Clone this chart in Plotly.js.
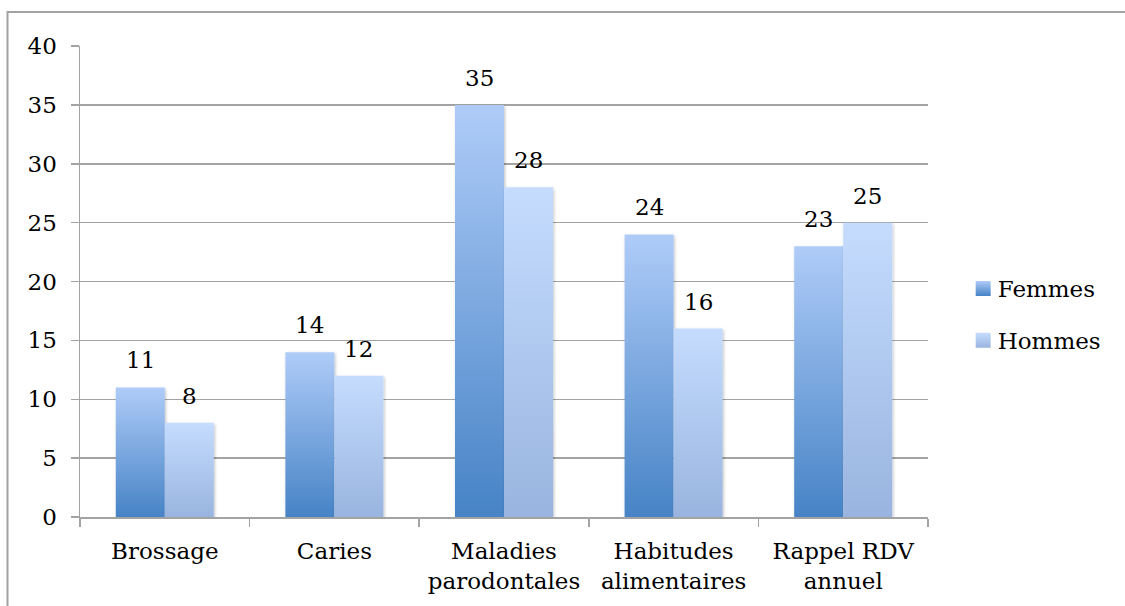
<!DOCTYPE html>
<html><head><meta charset="utf-8">
<script src="https://cdn.plot.ly/plotly-3.0.1.min.js"></script>
<style>html,body{margin:0;padding:0;background:#fff}#chart{width:1125px;height:606px}</style>
</head><body><div id="chart"></div>
<script>
const categories = ["Brossage", "Caries", "Maladies<br>parodontales", "Habitudes<br>alimentaires", "Rappel RDV<br>annuel"];
const femmes = [11, 14, 35, 24, 23];
const hommes = [8, 12, 28, 16, 25];
const seriesNames = ["Femmes", "Hommes"];
const yTickValues = [0, 5, 10, 15, 20, 25, 30, 35, 40];

const FONT = "'DejaVu Serif', serif";
const FS = 23;
const GRAY = "#a3a3a3";
const gradients = [
  {id: "gradF", top: "#afccf8", bottom: "#4683c6"},
  {id: "gradH", top: "#c5dcfe", bottom: "#99b4df"}
];
const series = [femmes, hommes];

const traces = series.map((vals, i) => ({
  type: "bar", name: seriesNames[i], x: categories, y: vals,
  marker: {color: gradients[i].bottom, line: {width: 0}},
  legendgroup: "g" + i, hoverinfo: "none"
}));

const annotations = [];
series.forEach((vals, i) => {
  vals.forEach((v, j) => {
    annotations.push({
      xref: "x", yref: "y", x: categories[j], y: v,
      xshift: i === 0 ? -24.5 : 24.5, yshift: 12,
      yanchor: "bottom", xanchor: "center", showarrow: false,
      text: String(v), font: {family: FONT, size: FS, color: "#000"}
    });
  });
});

const layout = {
  width: 1125, height: 606,
  margin: {l: 80, r: 197, t: 46, b: 89, pad: 0},
  paper_bgcolor: "#fff", plot_bgcolor: "#fff",
  font: {family: FONT, size: FS, color: "#000"},
  barmode: "group", bargap: 0.422, bargroupgap: 0,
  showlegend: true,
  legend: {x: 1.035, xanchor: "left", y: 0.43, yanchor: "middle",
    font: {family: FONT, size: FS, color: "#000"}, traceorder: "grouped",
    tracegroupgap: 19, itemwidth: 30, bgcolor: "rgba(0,0,0,0)"},
  xaxis: {type: "category", showgrid: false, showline: true, linecolor: GRAY, linewidth: 1.5,
    ticks: "outside", tickson: "boundaries", ticklen: 8, tickcolor: GRAY, tickwidth: 1.5,
    tickfont: {family: FONT, size: FS, color: "#000"}, ticklabelstandoff: 13, zeroline: false},
  yaxis: {range: [0, 40], tickvals: yTickValues, ticktext: yTickValues.map(String),
    showgrid: true, gridcolor: GRAY, gridwidth: 1.5, showline: true, linecolor: GRAY, linewidth: 1.5,
    ticks: "outside", ticklen: 8, tickcolor: GRAY, tickwidth: 1.5, zeroline: false,
    tickfont: {family: FONT, size: FS, color: "#000"}, ticklabelstandoff: 9},
  shapes: [{type: "rect", xref: "paper", yref: "paper", x0: -0.0855, x1: 1.6, y0: -0.6, y1: 1.0722,
    line: {color: GRAY, width: 2}, fillcolor: "rgba(0,0,0,0)", layer: "below"}],
  annotations: annotations
};

Plotly.newPlot("chart", traces, layout, {displayModeBar: false, staticPlot: true}).then(gd => {
  const svg = gd.querySelector("svg.main-svg");
  const NS = "http://www.w3.org/2000/svg";
  let defs = svg.querySelector("defs");
  if (!defs) { defs = document.createElementNS(NS, "defs"); svg.insertBefore(defs, svg.firstChild); }
  gradients.forEach(g => {
    const lg = document.createElementNS(NS, "linearGradient");
    lg.setAttribute("id", g.id); lg.setAttribute("x1", "0"); lg.setAttribute("y1", "0");
    lg.setAttribute("x2", "0"); lg.setAttribute("y2", "1");
    [[0, g.top], [1, g.bottom]].forEach(([o, c]) => {
      const s = document.createElementNS(NS, "stop");
      s.setAttribute("offset", o); s.setAttribute("stop-color", c); lg.appendChild(s);
    });
    defs.appendChild(lg);
  });
  const f = document.createElementNS(NS, "filter");
  f.setAttribute("id", "barShadow"); f.setAttribute("x", "-20%"); f.setAttribute("y", "-5%");
  f.setAttribute("width", "140%"); f.setAttribute("height", "115%");
  f.innerHTML = '<feDropShadow dx="1" dy="1.5" stdDeviation="1.5" flood-color="#000" flood-opacity="0.25"/>';
  defs.appendChild(f);
  gd.querySelectorAll(".barlayer .trace").forEach((t, i) => {
    t.querySelectorAll(".point path").forEach(p => {
      p.style.fill = "url(#" + gradients[i].id + ")";
      p.setAttribute("filter", "url(#barShadow)");
    });
  });
  gd.querySelectorAll(".legend .traces").forEach((t, i) => {
    t.querySelectorAll(".legendpoints path").forEach(p => {
      p.setAttribute("d", "M13,7.5H-2V-7.5H13Z");
      p.style.fill = "url(#" + gradients[i].id + ")";
      p.style.stroke = "none";
    });
  });
});
</script></body></html>
